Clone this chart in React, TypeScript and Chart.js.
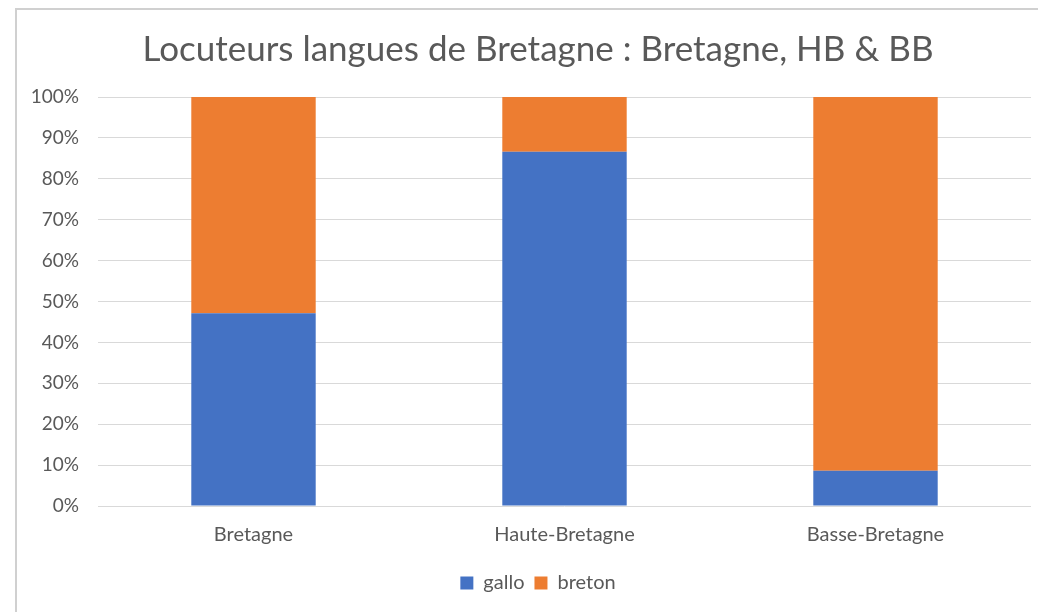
import React, { useEffect, useRef } from "react";
import { Chart, registerables } from "chart.js";

Chart.register(...registerables);

const categories = ["Bretagne", "Haute-Bretagne", "Basse-Bretagne"];
const galloValues = [47.1, 86.6, 8.6];
const bretonValues = [52.9, 13.4, 91.4];
const yTicks = [0, 10, 20, 30, 40, 50, 60, 70, 80, 90, 100];
const titleText = "Locuteurs langues de Bretagne : Bretagne, HB & BB";

const TEXT = "#595959";
const GRID = "#d9d9d9";
const FONT = "Lato, 'Open Sans', sans-serif";
const CANVAS_W = 1076;
const CANVAS_H = 612;

const framePlugin = {
  id: "frame",
  beforeDraw(chart: any) {
    const ctx = chart.ctx;
    ctx.save();
    ctx.fillStyle = "#ffffff";
    ctx.fillRect(0, 0, chart.width, chart.height);
    ctx.strokeStyle = "#d0d0d0";
    ctx.lineWidth = 2;
    ctx.beginPath();
    ctx.moveTo(16, chart.height);
    ctx.lineTo(16, 9);
    ctx.lineTo(chart.width, 9);
    ctx.stroke();
    ctx.restore();
  },
};

export default function App() {
  const ref = useRef<HTMLCanvasElement>(null);
  useEffect(() => {
    if (!ref.current) return;
    const chart = new Chart(ref.current, {
      type: "bar",
      data: {
        labels: categories,
        datasets: [
          { label: "gallo", data: galloValues, backgroundColor: "#4472C4" },
          { label: "breton", data: bretonValues, backgroundColor: "#ED7D31" },
        ],
      },
      options: {
        animation: false,
        responsive: false,
        maintainAspectRatio: false,
        layout: { padding: { left: 0, right: 0, top: 0, bottom: 9 } },
        datasets: { bar: { categoryPercentage: 1, barPercentage: 0.4 } },
        scales: {
          x: {
            stacked: true,
            grid: { display: false, drawTicks: false },
            border: { display: false },
            ticks: { color: TEXT, font: { family: FONT, size: 20 }, padding: 17 },
            afterFit: (s: any) => { s.height = 57; },
          },
          y: {
            stacked: true,
            min: 0,
            max: 100,
            afterBuildTicks: (s: any) => { s.ticks = yTicks.map((v) => ({ value: v })); },
            grid: { color: GRID, lineWidth: 1, drawTicks: false },
            border: { display: false },
            ticks: {
              color: TEXT,
              font: { family: FONT, size: 19 },
              padding: 19,
              callback: (v: any) => v + "%",
            },
            afterFit: (s: any) => { s.width = 98; },
          },
          yRight: {
            type: "linear",
            position: "right",
            display: true,
            grid: { display: false, drawTicks: false },
            border: { display: false },
            ticks: { display: false },
            afterFit: (s: any) => { s.width = CANVAS_W - 1031; },
          },
        },
        plugins: {
          title: {
            display: true,
            text: titleText,
            color: TEXT,
            font: { family: FONT, size: 35, weight: "normal" },
            padding: { top: 29, bottom: 26 },
          },
          legend: {
            position: "bottom",
            labels: {
              color: TEXT,
              font: { family: FONT, size: 20 },
              boxWidth: 13,
              boxHeight: 13,
              padding: 10,
            },
          },
          tooltip: { enabled: false },
        },
      },
      plugins: [framePlugin],
    });
    return () => chart.destroy();
  }, []);
  return (
    <div style={{ position: "absolute", left: 0, top: 0, width: 1038, height: 612, overflow: "hidden", background: "#fff" }}>
      <canvas ref={ref} width={CANVAS_W} height={CANVAS_H} style={{ width: CANVAS_W, height: CANVAS_H, display: "block" }} />
    </div>
  );
}
